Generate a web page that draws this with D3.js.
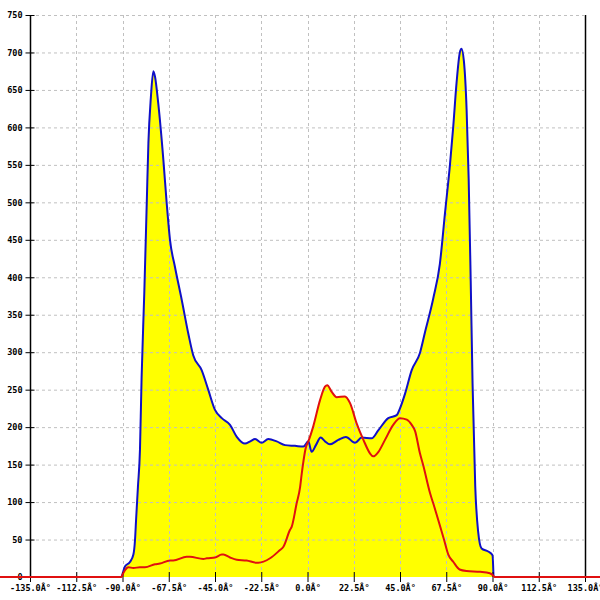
<!DOCTYPE html>
<html><head><meta charset="utf-8">
<script src="https://cdn.jsdelivr.net/npm/d3@7"></script>
<style>body{margin:0;background:#fff}svg{display:block}</style>
</head><body>
<script>
// Data
const blueAngles = [-90.5,-90,-88.8,-86.4,-84.7,-83.9,-83.4,-82.5,-81.5,-80.7,-79.4,-78.2,-77.4,-76.2,-75.0,-74.2,-72.6,-70.1,-68.5,-66.9,-64.5,-61.2,-58.0,-55.6,-51.5,-48.3,-45.0,-41.7,-37.7,-34.4,-30.4,-27.8,-25.5,-22.3,-19.1,-15.0,-10.9,-6.1,-2.0,0.4,2.0,4.1,6.4,8.5,10.9,15.0,18.7,23.1,26.4,31.2,34.5,39.3,43.4,45.0,47.5,50.7,54.7,57.1,61.2,64.4,66.9,69.3,70.9,72.5,74.1,74.9,76.1,77.4,78.4,79.4,80.3,81.6,83.0,84.7,87.9,90.0,90.5];
const blueValues = [0,4,14,20,30,50,76,120,170,267,379,499,579,640,675,668,632,556,499,450,414,370,325,296,276,250,223,212,203,187,178,181,184,179,184,181,176,175,174,181,167,176,186,181,177,183,187,179,186,185,196,212,216,225,245,276,299,326,372,418,486,550,601,659,700,705,688,624,532,395,258,121,61,38,34,29,0];
const redAngles = [-180,-90.5,-90,-88.8,-87.2,-84.7,-81.5,-79.1,-74.2,-71.8,-66.9,-65.3,-58.8,-57.2,-50.7,-49.0,-45.0,-41.7,-40.9,-37.7,-34.4,-29.6,-24.7,-23.9,-18.2,-13.4,-11.8,-8.5,-7.7,-5.3,-3.6,-2.8,-0.7,0.4,2.8,6.1,8.5,9.6,11.8,14.2,18.2,20.7,23.9,27.2,30.4,32.0,34.5,37.7,41.7,45.0,48.3,50.7,52.3,54.7,56.3,59.6,61.2,66.4,68.5,71.0,74.0,77.4,84.0,88.7,90.3,91.0,180];
const redValues = [0,0,3,9,13,12,13,13,17,18,22,22,27,27,24,25,26,30,30,26,23,22,19,19,25,36,40,63,67,98,120,138,174,181,201,236,254,256,247,240,241,232,205,183,165,161,167,183,203,212,210,203,195,165,149,112,98,50,30,20,10,8,7,5,2,0,0];
const xTicks = [-135,-112.5,-90,-67.5,-45,-22.5,0,22.5,45,67.5,90,112.5,135];
const xTickLabels = ["-135.0Â°","-112.5Â°","-90.0Â°","-67.5Â°","-45.0Â°","-22.5Â°","0.0Â°","22.5Â°","45.0Â°","67.5Â°","90.0Â°","112.5Â°","135.0Â°"];
const yTicks = [0,50,100,150,200,250,300,350,400,450,500,550,600,650,700,750];

const W = 600, H = 600;
const svg = d3.select("body").append("svg").attr("width", W).attr("height", H);
const x = d3.scaleLinear().domain([-135,135]).range([30,585]);
const y = d3.scaleLinear().domain([0,750]).range([577,15]);

const blue = blueAngles.map((a,i)=>({a, v: blueValues[i]}));
const red = redAngles.map((a,i)=>({a, v: redValues[i]}));

// areas
const area = d3.area().x(d=>x(d.a)).y0(y(0)).y1(d=>y(d.v)).curve(d3.curveMonotoneX);
svg.append("path").datum(blue).attr("d", area).attr("fill", "#ffff00");
svg.append("path").datum(red).attr("d", area).attr("fill", "#ffff00");

// grid
const g2 = svg.append("g");
g2.selectAll("line.hg").data(yTicks.filter(d=>d>0)).join("line")
  .attr("x1", 30).attr("x2", 584).attr("y1", d=>y(d)+0.5).attr("y2", d=>y(d)+0.5)
  .attr("stroke", "#c0c0c0").attr("stroke-width", 1).attr("stroke-dasharray", "3,3");
g2.selectAll("line.vg").data(xTicks.filter(d=>d>-135 && d<135)).join("line")
  .attr("x1", d=>Math.round(x(d))+0.5).attr("x2", d=>Math.round(x(d))+0.5).attr("y1", 15).attr("y2", 577)
  .attr("stroke", "#c0c0c0").attr("stroke-width", 1).attr("stroke-dasharray", "3,3");

// lines
const line = d3.line().x(d=>x(d.a)).y(d=>y(d.v)).curve(d3.curveMonotoneX);
svg.append("path").datum(blue).attr("d", line).attr("fill", "none").attr("stroke", "#1010c8").attr("stroke-width", 2);

// axes
const yAxis = d3.axisLeft(y).tickValues(yTicks).tickSize(4).tickFormat(d=>String(d));
const ya = svg.append("g").attr("transform", "translate(30.5,0)").call(yAxis);
ya.select(".domain").remove();
ya.selectAll(".tick line").attr("x1", -5).attr("x2", 4).attr("stroke", "#000");
ya.selectAll(".tick text").attr("x", -8).attr("font-family", "DejaVu Sans Mono").attr("font-size", 8.5).attr("font-weight", "bold").attr("fill", "#000");
svg.append("line").attr("x1", 30.5).attr("x2", 30.5).attr("y1", 15).attr("y2", 578).attr("stroke", "#000").attr("stroke-width", 1.5);
svg.append("line").attr("x1", 585.5).attr("x2", 585.5).attr("y1", 15).attr("y2", 578).attr("stroke", "#000").attr("stroke-width", 1.5);

const xAxis = d3.axisBottom(x).tickValues(xTicks).tickSize(4).tickFormat((d,i)=>xTickLabels[i]);
const xa = svg.append("g").attr("transform", "translate(0,577)").call(xAxis);
xa.select(".domain").remove();
xa.selectAll(".tick line").attr("y1", -5).attr("y2", 5).attr("stroke", "#000");
xa.selectAll(".tick text").attr("y", 8).attr("font-family", "DejaVu Sans Mono").attr("font-size", 8.5).attr("font-weight", "bold").attr("fill", "#000");

svg.append("path").datum(red).attr("d", line).attr("fill", "none").attr("stroke", "#e01010").attr("stroke-width", 2);
</script>
</body></html>
